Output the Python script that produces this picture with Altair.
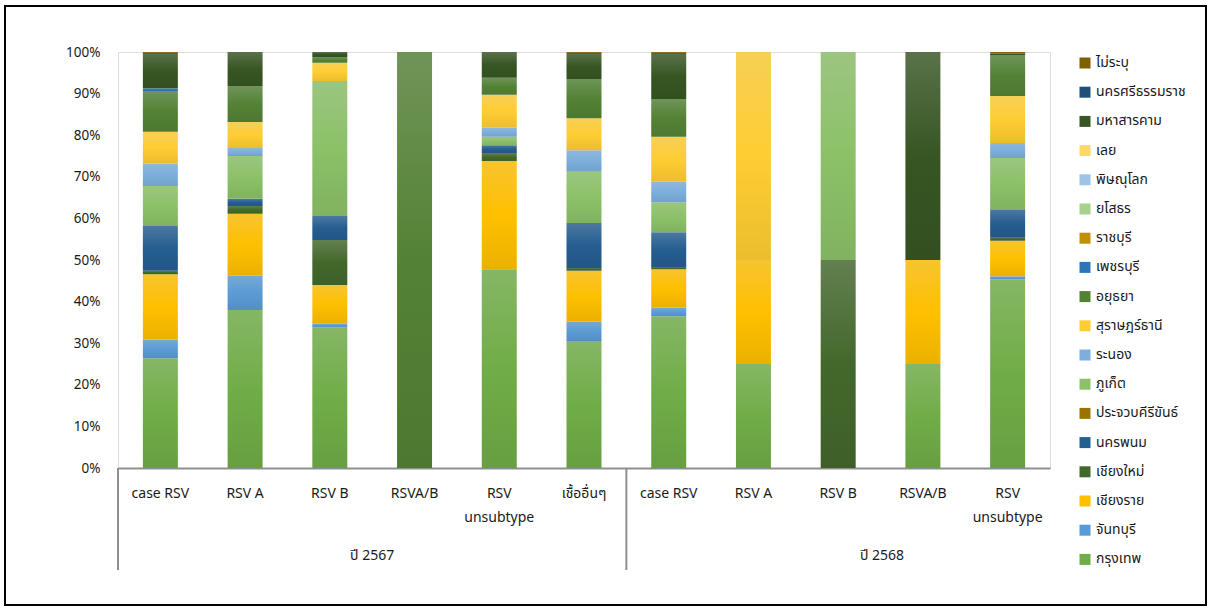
import altair as alt
import pandas as pd

# ---------------- data ----------------
groups = ["ปี 2567"] * 6 + ["ปี 2568"] * 5
categories = ["case RSV", "RSV A", "RSV B", "RSVA/B", "RSV unsubtype", "เชื้ออื่นๆ",
              "case RSV", "RSV A", "RSV B", "RSVA/B", "RSV unsubtype"]

# series in stacking order (bottom -> top)
series_names = ["กรุงเทพ", "จันทบุรี", "เชียงราย", "เชียงใหม่", "นครพนม", "ประจวบคีรีขันธ์",
                "ภูเก็ต", "ระนอง", "สุราษฎร์ธานี", "อยุธยา", "เพชรบุรี", "ราชบุรี",
                "ยโสธร", "พิษณุโลก", "เลย", "มหาสารคาม", "นครศรีธรรมราช", "ไม่ระบุ"]

v_bkk   = [26.4, 38.0, 33.8, 0, 47.8, 30.5, 36.5, 25, 0, 25, 45.4]
v_chan  = [4.4, 8.2, 0.9, 0, 0, 4.7, 2.0, 0, 0, 0, 0.7]
v_cr    = [15.8, 14.9, 9.3, 0, 26.0, 12.2, 9.3, 25, 0, 25, 8.5]
v_cm    = [0.8, 1.9, 10.8, 0, 1.9, 0.7, 0.5, 0, 50, 0, 0.9]
v_npm   = [10.8, 1.7, 5.8, 0, 1.9, 10.8, 8.4, 0, 0, 0, 6.5]
v_pkk   = [0, 0, 0, 0, 0, 0, 0, 0, 0, 0, 0]
v_pkt   = [9.6, 10.3, 32.4, 0, 2.0, 12.3, 7.2, 0, 50, 0, 12.5]
v_rn    = [5.4, 1.9, 0, 0, 2.2, 5.2, 4.9, 0, 0, 0, 3.6]
v_srt   = [7.6, 6.3, 4.4, 0, 7.9, 7.7, 10.8, 50, 0, 0, 11.3]
v_ayt   = [9.8, 8.6, 1.4, 100, 4.1, 9.4, 9.1, 0, 0, 0, 9.9]
v_pb    = [0.7, 0, 0, 0, 0, 0, 0, 0, 0, 0, 0]
v_rb    = [0, 0, 0, 0, 0, 0, 0, 0, 0, 0, 0]
v_yst   = [0, 0, 0, 0, 0, 0, 0, 0, 0, 0, 0]
v_psl   = [0, 0, 0, 0, 0, 0, 0, 0, 0, 0, 0]
v_loei  = [0, 0, 0, 0, 0, 0, 0, 0, 0, 0, 0]
v_mkm   = [8.2, 8.2, 1.2, 0, 6.2, 6.0, 10.8, 0, 0, 50, 0.4]
v_nst   = [0, 0, 0, 0, 0, 0, 0, 0, 0, 0, 0]
v_na    = [0.5, 0, 0, 0, 0, 0.5, 0.5, 0, 0, 0, 0.3]

series_values = [v_bkk, v_chan, v_cr, v_cm, v_npm, v_pkk, v_pkt, v_rn, v_srt, v_ayt,
                 v_pb, v_rb, v_yst, v_psl, v_loei, v_mkm, v_nst, v_na]

y_ticks = [0, 0.1, 0.2, 0.3, 0.4, 0.5, 0.6, 0.7, 0.8, 0.9, 1.0]

# ---------------- styles ----------------
base_colors = ["#70AD47", "#5B9BD5", "#FFC000", "#43682B", "#255E91", "#997300",
               "#8CC168", "#7CAFDD", "#FFCD33", "#548235", "#2E75B6", "#BF9000",
               "#A9D18E", "#9DC3E6", "#FFD966", "#375623", "#1F4E79", "#7F6000"]

FONT = "Noto Sans Thai, Tahoma, Leelawadee UI, Liberation Sans Narrow, Liberation Sans, sans-serif"
TXT = "#1a1a1a"

W, H = 932, 416
N = len(categories)
STEP = W / N


def hex2rgb(h):
    h = h.lstrip("#")
    return tuple(int(h[i:i + 2], 16) for i in (0, 2, 4))


def rgb2hex(c):
    return "#" + "".join(f"{max(0, min(255, int(round(v)))):02x}" for v in c)


def lighter(h, t=0.22, target=212):
    r = hex2rgb(h)
    return rgb2hex([v + t * (target - v) for v in r])


def darker(h, f=0.92):
    return rgb2hex([v * f for v in hex2rgb(h)])


def gradient(h):
    return alt.Gradient(
        gradient="linear", x1=0, y1=0, x2=0, y2=1,
        stops=[alt.GradientStop(color=lighter(h), offset=0),
               alt.GradientStop(color=h, offset=0.5),
               alt.GradientStop(color=darker(h), offset=1)])


# ---------------- tables ----------------
keys = [f"{g}|{c}" for g, c in zip(groups, categories)]
rows = []
for si, (s, vals) in enumerate(zip(series_names, series_values)):
    for k, v in zip(keys, vals):
        rows.append({"key": k, "series": s, "order": si, "value": v})
df = pd.DataFrame(rows)

lab_rows = []
for k, c in zip(keys, categories):
    parts = c.split(" ") if c == "RSV unsubtype" else [c]
    lab_rows.append({"key": k, "l1": parts[0], "l2": parts[1] if len(parts) > 1 else ""})
labels_df = pd.DataFrame(lab_rows)

x_enc = alt.X("key:N", sort=keys,
              scale=alt.Scale(paddingInner=0.587, paddingOuter=0.2935),
              axis=alt.Axis(labels=False, ticks=False, title=None, domain=True,
                            domainColor="#8f8f8f", domainWidth=2, grid=False))
y_axis = alt.Axis(values=y_ticks, format=".0%", title=None, domain=False, ticks=False,
                  grid=False, labelPadding=18, labelFontSize=13.5, labelFont=FONT,
                  labelColor=TXT)

base = alt.Chart(df).transform_filter("datum.value > 0").transform_stack(
    stack="value", groupby=["key"], as_=["y0", "y1"], offset="normalize",
    sort=[alt.SortField("order", "ascending")])

layers = []
for si, s in enumerate(series_names):
    if sum(series_values[si]) == 0:
        continue
    layers.append(
        base.transform_filter(alt.datum.series == s)
        .mark_bar(fill=gradient(base_colors[si]))
        .encode(x=x_enc,
                y=alt.Y("y0:Q", scale=alt.Scale(domain=[0, 1]), axis=y_axis),
                y2="y1:Q")
    )

# legend (listed top -> bottom as in reference: reverse of stacking)
legend_layer = alt.Chart(pd.DataFrame({"series": series_names})).mark_square(
    opacity=0).encode(
    color=alt.Color("series:N",
                    scale=alt.Scale(domain=series_names[::-1], range=base_colors[::-1]),
                    legend=alt.Legend(title=None, orient="none", legendX=960, legendY=4,
                                      symbolType="square", symbolSize=121,
                                      symbolOpacity=1, symbolStrokeWidth=0,
                                      labelFontSize=14, labelFont=FONT, labelColor=TXT,
                                      labelLimit=300, rowPadding=15.2, labelOffset=4,
                                      padding=0)))

lab1 = alt.Chart(labels_df).mark_text(font=FONT, fontSize=14, color=TXT,
                                      baseline="middle").encode(
    x=x_enc, y=alt.value(442), text="l1:N")
lab2 = alt.Chart(labels_df).mark_text(font=FONT, fontSize=14, color=TXT,
                                      baseline="middle").encode(
    x=x_enc, y=alt.value(466), text="l2:N")

grp_df = pd.DataFrame({"g": ["ปี 2567", "ปี 2568"]})
grp1 = alt.Chart(grp_df).transform_filter(alt.datum.g == "ปี 2567").mark_text(
    font=FONT, fontSize=14, color=TXT, baseline="middle").encode(
    x=alt.value(STEP * 3), y=alt.value(504), text="g:N")
grp2 = alt.Chart(grp_df).transform_filter(alt.datum.g == "ปี 2568").mark_text(
    font=FONT, fontSize=14, color=TXT, baseline="middle").encode(
    x=alt.value(764), y=alt.value(504), text="g:N")

sep_df = pd.DataFrame({"s": [0, 1]})
sep1 = alt.Chart(sep_df).transform_filter("datum.s == 0").mark_rule(
    color="#8f8f8f", strokeWidth=2).encode(
    x=alt.value(0), y=alt.value(H), y2=alt.value(H + 102))
sep2 = alt.Chart(sep_df).transform_filter("datum.s == 1").mark_rule(
    color="#8f8f8f", strokeWidth=2).encode(
    x=alt.value(STEP * 6), y=alt.value(H), y2=alt.value(H + 102))

frame = alt.Chart(pd.DataFrame({"f": [0]})).mark_rect(
    fill=None, stroke="#000000", strokeWidth=2).encode(
    x=alt.value(-113), x2=alt.value(1088), y=alt.value(-46), y2=alt.value(553))

chart = alt.layer(frame, *layers, lab1, lab2, grp1, grp2, sep1, sep2, legend_layer).properties(
    width=W, height=H,
    autosize=alt.AutoSizeParams(type="none"),
    padding={"left": 118, "top": 52, "right": 158, "bottom": 142},
).configure_view(stroke=None).configure(background="white")

chart.save("out.html", embed_options={"renderer": "svg", "actions": False})
